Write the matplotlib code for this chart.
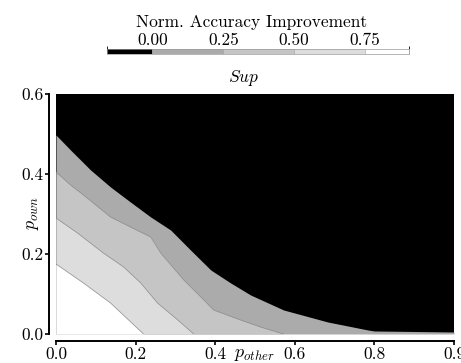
import matplotlib
matplotlib.use('Agg')
import matplotlib as mpl
import matplotlib.pyplot as plt
from matplotlib.colors import ListedColormap, BoundaryNorm

# ---- data (contour boundaries: p_other -> p_own) ----
b0_x = [0.0, 0.0365, 0.087, 0.137, 0.187, 0.238, 0.288, 0.338, 0.389, 0.439, 0.489, 0.572, 0.683, 0.784, 0.80, 1.0]
b0_y = [0.4975, 0.46, 0.41, 0.3675, 0.33, 0.2925, 0.26, 0.21, 0.16, 0.1275, 0.0975, 0.06, 0.03, 0.01, 0.0075, 0.005]

b1_x = [0.0, 0.0365, 0.069, 0.137, 0.187, 0.238, 0.263, 0.321, 0.364, 0.396, 0.464, 0.514, 0.572]
b1_y = [0.405, 0.3725, 0.3475, 0.2925, 0.2675, 0.2425, 0.2025, 0.135, 0.0925, 0.06, 0.035, 0.0175, 0.0]

b2_x = [0.0, 0.054, 0.119, 0.170, 0.213, 0.255, 0.306, 0.346]
b2_y = [0.29, 0.2525, 0.2025, 0.1675, 0.1275, 0.0775, 0.035, 0.0]

b3_x = [0.0, 0.069, 0.137, 0.22]
b3_y = [0.175, 0.1275, 0.0775, 0.0]

levels = [-0.16, 0.0, 0.25, 0.5, 0.75, 0.905]
level_colors = ['#000000', '#ababab', '#c5c5c5', '#dddddd', '#ffffff']
cbar_ticks = [0.0, 0.25, 0.5, 0.75]
cbar_ticklabels = ['0.00', '0.25', '0.50', '0.75']
xticks = [0.0, 0.2, 0.4, 0.6, 0.8, 1.0]
xticklabels = ['0.0', '0.2', '0.4', '0.6', '0.8', '0.9']
yticks = [0.0, 0.2, 0.4, 0.6]
yticklabels = ['0.0', '0.2', '0.4', '0.6']

plt.rcParams['mathtext.fontset'] = 'cm'
plt.rcParams['font.family'] = 'cmr10'
plt.rcParams['axes.formatter.use_mathtext'] = True

W, H = 461, 363
fig = plt.figure(figsize=(W / 100, H / 100), dpi=100)
ax = fig.add_axes([56 / W, 29 / H, 398 / W, 240 / H])
ax.set_xlim(0, 1.0)
ax.set_ylim(0, 0.6)

ax.fill_between([0, 1.0], 0, 0.6, color=level_colors[0], lw=0)
bounds = [(b0_x, b0_y), (b1_x, b1_y), (b2_x, b2_y), (b3_x, b3_y)]
for i, (bx, by) in enumerate(bounds):
    ax.fill_between(bx, 0, by, color=level_colors[i + 1], lw=0)
for bx, by in bounds[1:]:
    ax.plot(bx, by, color='#8c8c8c', lw=0.5)

for s in ['top', 'right']:
    ax.spines[s].set_visible(False)
for s in ['left', 'bottom']:
    ax.spines[s].set_position(('outward', 5))
    ax.spines[s].set_linewidth(1.4)
ax.set_xticks(xticks)
ax.set_xticklabels(xticklabels)
ax.set_yticks(yticks)
ax.set_yticklabels(yticklabels)
ax.tick_params(direction='out', length=3, width=1.2, labelsize=12.5, pad=1)

ax.text(0.5, -0.096, r'$p_{other}$', transform=ax.transAxes, ha='center', va='baseline', fontsize=13)
ax.text(-0.058, 0.504, r'$p_{own}$', transform=ax.transAxes, ha='center', va='center', rotation=90, fontsize=13)

fig.text(244 / W, 1 - 78 / H, r'$Sup$', ha='center', va='center', fontsize=12.5)

cax = fig.add_axes([107 / W, 1 - 54 / H, 302 / W, 5 / H])
cmap = ListedColormap(level_colors)
norm = BoundaryNorm(levels, len(level_colors))
cb = mpl.colorbar.ColorbarBase(cax, cmap=cmap, norm=norm, orientation='horizontal',
                               ticks=cbar_ticks, drawedges=True, spacing='proportional')
cb.outline.set_linewidth(0.5)
cb.outline.set_edgecolor('#999999')
cb.dividers.set_color('#999999')
cb.dividers.set_linewidth(0.4)
cax.xaxis.set_ticks_position('top')
cax.set_xticklabels(cbar_ticklabels)
cax.tick_params(length=0, labelsize=12.5, pad=1)
fig.text(252 / W, 1 - 22 / H, 'Norm. Accuracy Improvement', ha='center', va='center', fontsize=12.5)

fig.savefig('out.png', dpi=100)
